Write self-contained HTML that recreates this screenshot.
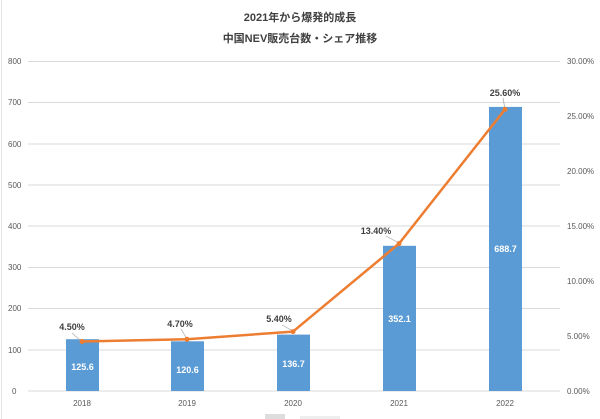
<!DOCTYPE html>
<html><head><meta charset="utf-8"><style>
html,body{margin:0;padding:0;background:#fff;}
svg{display:block;}
text{font-family:"Liberation Sans","Noto Sans CJK JP",sans-serif;}
</style></head><body>
<svg width="600" height="419" viewBox="0 0 600 419" xmlns="http://www.w3.org/2000/svg">
<rect x="0" y="0" width="600" height="419" fill="#fff"/>
<line x1="1.5" y1="0" x2="1.5" y2="419" stroke="#e4e4e4"/>
<text x="300" y="21" font-size="11" font-weight="bold" fill="#404040" text-anchor="middle">2021年から爆発的成長</text>
<text x="300" y="42" font-size="11" font-weight="bold" fill="#404040" text-anchor="middle">中国NEV販売台数・シェア推移</text>
<g stroke="#d9d9d9" stroke-width="1">
<line x1="28" y1="61.5" x2="560" y2="61.5"/>
<line x1="28" y1="102.5" x2="560" y2="102.5"/>
<line x1="28" y1="144" x2="560" y2="144"/>
<line x1="28" y1="185" x2="560" y2="185"/>
<line x1="28" y1="226" x2="560" y2="226"/>
<line x1="28" y1="267.5" x2="560" y2="267.5"/>
<line x1="28" y1="308.5" x2="560" y2="308.5"/>
<line x1="28" y1="350" x2="560" y2="350"/>
<line x1="28" y1="391" x2="560" y2="391"/>
</g>
<g font-size="8" fill="#595959" text-anchor="start">
<text x="8" y="64">800</text><text x="8" y="105">700</text><text x="8" y="147">600</text><text x="8" y="188">500</text><text x="8" y="229">400</text><text x="8" y="270">300</text><text x="8" y="311">200</text><text x="8" y="353">100</text><text x="12" y="394">0</text>
</g>
<g font-size="8" fill="#595959" text-anchor="start">
<text x="567" y="64">30.00%</text><text x="567" y="119">25.00%</text><text x="567" y="174">20.00%</text><text x="567" y="229">15.00%</text><text x="567" y="284">10.00%</text><text x="567" y="339">5.00%</text><text x="567" y="394">0.00%</text>
</g>
<g fill="#5b9bd5">
<rect x="66" y="339.2" width="33" height="51.8"/>
<rect x="171" y="341.3" width="33" height="49.7"/>
<rect x="277" y="334.6" width="33" height="56.4"/>
<rect x="383" y="245.8" width="33" height="145.2"/>
<rect x="489" y="106.9" width="33" height="284.1"/>
</g>
<g font-size="9" font-weight="bold" fill="#fff" text-anchor="middle">
<text x="82.5" y="370">125.6</text><text x="187.5" y="373">120.6</text><text x="293.5" y="367">136.7</text><text x="399.5" y="322">352.1</text><text x="505.5" y="252">688.7</text>
</g>
<g font-size="8" fill="#595959" text-anchor="start">
<text x="570" y="414">&#8203;</text>
</g>
<g font-size="8" fill="#595959" text-anchor="middle">
<text x="82" y="406">2018</text><text x="187" y="406">2019</text><text x="293" y="406">2020</text><text x="399" y="406">2021</text><text x="505" y="406">2022</text>
</g>
<g stroke="#a6a6a6" stroke-width="0.7">
<line x1="72" y1="333" x2="81" y2="341"/>
<line x1="181" y1="329" x2="187" y2="339"/>
<line x1="282" y1="325" x2="293" y2="331"/>
<line x1="386" y1="236" x2="399" y2="243"/>
<line x1="503" y1="98" x2="505" y2="109"/>
</g>
<polyline points="82,341.5 187,339.3 293,331.6 399,243.6 505,109.4" fill="none" stroke="#ed7d31" stroke-width="2.5" stroke-linejoin="round"/>
<g fill="#ed7d31">
<circle cx="82" cy="341.5" r="2.5"/><circle cx="187" cy="339.3" r="2.5"/><circle cx="293" cy="331.6" r="2.5"/><circle cx="399" cy="243.6" r="2.5"/><circle cx="505" cy="109.4" r="2.5"/>
</g>
<g font-size="9" font-weight="bold" fill="#404040" text-anchor="middle">
<text x="72" y="330">4.50%</text><text x="180" y="327">4.70%</text><text x="279" y="322">5.40%</text><text x="376" y="234">13.40%</text><text x="505" y="96">25.60%</text>
</g>
<rect x="265" y="414" width="20" height="5" fill="#ddd"/>
<rect x="300" y="416" width="40" height="3" fill="#eee"/>
</svg>
</body></html>
